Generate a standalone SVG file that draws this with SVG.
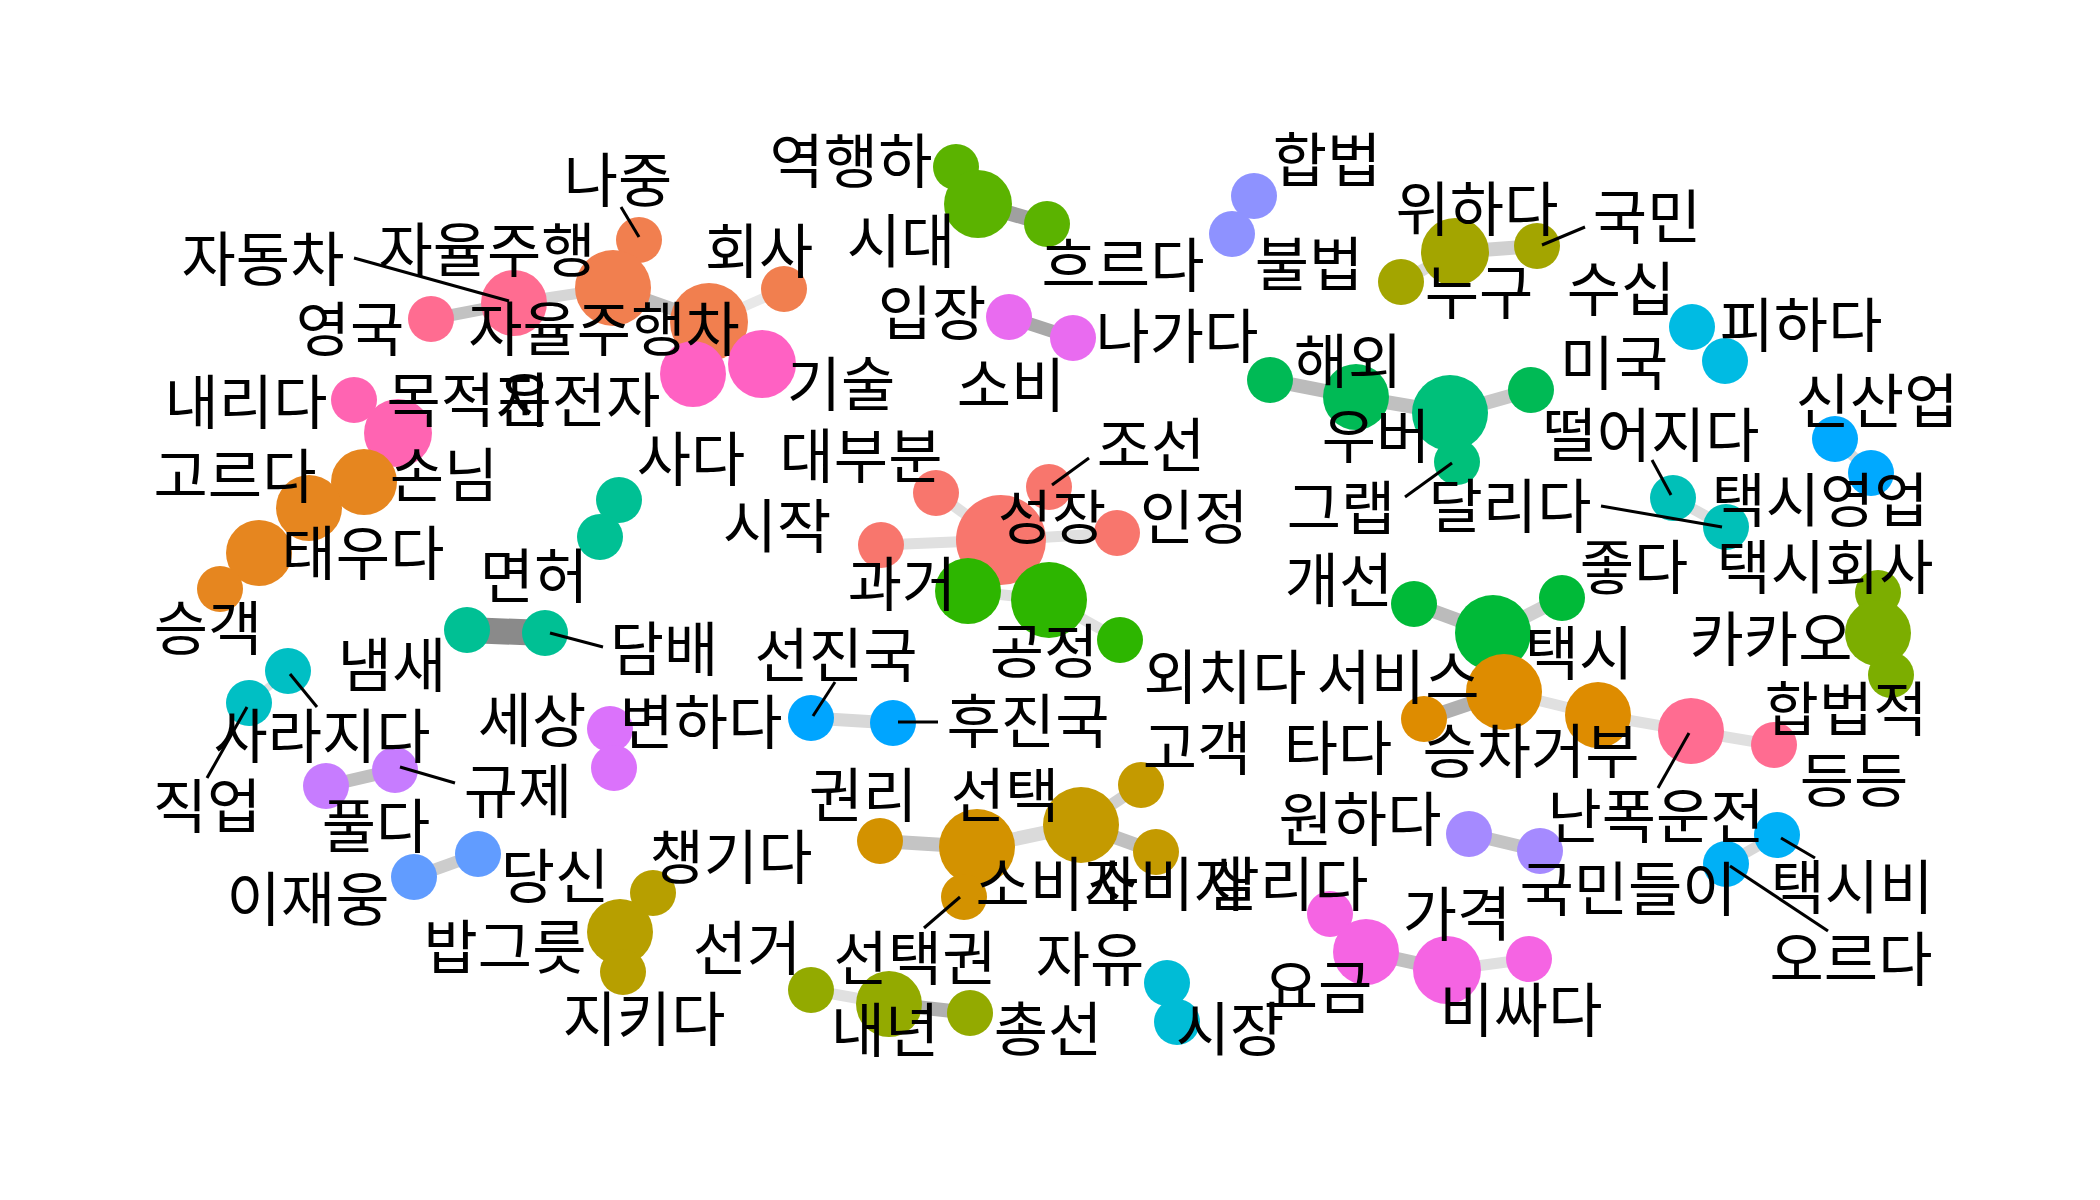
<svg xmlns="http://www.w3.org/2000/svg" width="2100" height="1200" viewBox="0 0 2100 1200">
<style>
text{font-family:"Noto Sans CJK KR","Noto Sans",sans-serif;font-size:59px;fill:#000;text-anchor:middle;dominant-baseline:central}
.e{fill:none;stroke-linecap:butt}
.ld{stroke:#000;stroke-width:3}
</style>
<rect width="2100" height="1200" fill="#fff"/>
<g id="connectors">
<line class="e" x1="431" y1="319" x2="514" y2="303" stroke="#C2C2C2" stroke-width="12"/>
<line class="e" x1="514" y1="303" x2="613" y2="288" stroke="#D6D6D6" stroke-width="11"/>
<line class="e" x1="613" y1="288" x2="709" y2="322" stroke="#BDBDBD" stroke-width="13"/>
<line class="e" x1="709" y1="322" x2="784" y2="289" stroke="#E8E8E8" stroke-width="10"/>
<line class="e" x1="978" y1="204" x2="1047" y2="224" stroke="#A0A0A0" stroke-width="15"/>
<line class="e" x1="1009" y1="317" x2="1073" y2="338" stroke="#A8A8A8" stroke-width="13"/>
<line class="e" x1="1270" y1="380" x2="1356" y2="397" stroke="#BBBBBB" stroke-width="14"/>
<line class="e" x1="1356" y1="397" x2="1450" y2="413" stroke="#C0C0C0" stroke-width="14"/>
<line class="e" x1="1450" y1="413" x2="1531" y2="390" stroke="#C8C8C8" stroke-width="14"/>
<line class="e" x1="1401" y1="282" x2="1455" y2="252" stroke="#DADADA" stroke-width="12"/>
<line class="e" x1="1455" y1="252" x2="1537" y2="246" stroke="#D0D0D0" stroke-width="14"/>
<line class="e" x1="1835" y1="439" x2="1871" y2="473" stroke="#D8D8D8" stroke-width="10"/>
<line class="e" x1="1673" y1="498" x2="1726" y2="527" stroke="#DDDDDD" stroke-width="11"/>
<line class="e" x1="467" y1="630" x2="545" y2="633" stroke="#8A8A8A" stroke-width="26"/>
<line class="e" x1="288" y1="671" x2="249" y2="703" stroke="#E0E0E0" stroke-width="8"/>
<line class="e" x1="326" y1="786" x2="395" y2="770" stroke="#C0C0C0" stroke-width="13"/>
<line class="e" x1="414" y1="877" x2="478" y2="854" stroke="#CCCCCC" stroke-width="12"/>
<line class="e" x1="936" y1="493" x2="1001" y2="540" stroke="#E0E0E0" stroke-width="11"/>
<line class="e" x1="881" y1="545" x2="1001" y2="540" stroke="#E0E0E0" stroke-width="11"/>
<line class="e" x1="1001" y1="540" x2="1117" y2="533" stroke="#E0E0E0" stroke-width="11"/>
<line class="e" x1="968" y1="591" x2="1049" y2="600" stroke="#E0E0E0" stroke-width="11"/>
<line class="e" x1="1049" y1="600" x2="1120" y2="640" stroke="#E0E0E0" stroke-width="11"/>
<line class="e" x1="811" y1="718" x2="893" y2="723" stroke="#D8D8D8" stroke-width="13"/>
<line class="e" x1="1414" y1="604" x2="1493" y2="633" stroke="#BBBBBB" stroke-width="14"/>
<line class="e" x1="1493" y1="633" x2="1562" y2="598" stroke="#D0D0D0" stroke-width="14"/>
<line class="e" x1="1424" y1="719" x2="1504" y2="692" stroke="#B0B0B0" stroke-width="14"/>
<line class="e" x1="1504" y1="692" x2="1598" y2="715" stroke="#E0E0E0" stroke-width="11"/>
<line class="e" x1="1598" y1="715" x2="1691" y2="731" stroke="#E0E0E0" stroke-width="11"/>
<line class="e" x1="1691" y1="731" x2="1774" y2="745" stroke="#E0E0E0" stroke-width="11"/>
<line class="e" x1="880" y1="841" x2="977" y2="847" stroke="#C4C4C4" stroke-width="14"/>
<line class="e" x1="977" y1="847" x2="1081" y2="825" stroke="#DADADA" stroke-width="14"/>
<line class="e" x1="1081" y1="825" x2="1141" y2="785" stroke="#D0D0D0" stroke-width="12"/>
<line class="e" x1="1081" y1="825" x2="1156" y2="852" stroke="#C0C0C0" stroke-width="14"/>
<line class="e" x1="811" y1="990" x2="889" y2="1004" stroke="#E0E0E0" stroke-width="11"/>
<line class="e" x1="889" y1="1004" x2="970" y2="1013" stroke="#B0B0B0" stroke-width="14"/>
<line class="e" x1="1469" y1="834" x2="1540" y2="851" stroke="#C4C4C4" stroke-width="13"/>
<line class="e" x1="1726" y1="864" x2="1777" y2="835" stroke="#D8D8D8" stroke-width="11"/>
<line class="e" x1="1366" y1="952" x2="1447" y2="970" stroke="#C0C0C0" stroke-width="14"/>
<line class="e" x1="1447" y1="970" x2="1529" y2="959" stroke="#E0E0E0" stroke-width="11"/>
</g>
<g id="nodes">
<g id="n-najung"><circle cx="639" cy="240" r="23" fill="#F17F4F"/></g>
<g id="n-jayuljuhaeng"><circle cx="613" cy="288" r="38" fill="#F17F4F"/></g>
<g id="n-jayuljuhaengcha"><circle cx="709" cy="322" r="39" fill="#F17F4F"/></g>
<g id="n-hoesa"><circle cx="784" cy="289" r="23" fill="#F17F4F"/></g>
<g id="n-jadongcha"><circle cx="514" cy="303" r="33" fill="#FF6C91"/></g>
<g id="n-yeongguk"><circle cx="431" cy="319" r="23" fill="#FF6C91"/></g>
<g id="n-unjeonja"><circle cx="693" cy="374" r="33" fill="#FF61C3"/></g>
<g id="n-gisul"><circle cx="762" cy="364" r="34" fill="#FF61C3"/></g>
<g id="n-naerida"><circle cx="354" cy="400" r="23" fill="#FF64B2"/></g>
<g id="n-mokjeokji"><circle cx="398" cy="433" r="34" fill="#FF64B2"/></g>
<g id="n-sonnim"><circle cx="364" cy="482" r="33" fill="#E6861F"/></g>
<g id="n-goreuda"><circle cx="309" cy="508" r="33" fill="#E6861F"/></g>
<g id="n-taeuda"><circle cx="259" cy="553" r="33" fill="#E6861F"/></g>
<g id="n-seunggaek"><circle cx="220" cy="589" r="23" fill="#E6861F"/></g>
<g id="n-yeokhaengha"><circle cx="956" cy="167" r="23" fill="#5BB300"/></g>
<g id="n-sidae"><circle cx="978" cy="204" r="34" fill="#5BB300"/></g>
<g id="n-heureuda"><circle cx="1047" cy="224" r="23" fill="#5BB300"/></g>
<g id="n-hapbeop"><circle cx="1254" cy="196" r="23" fill="#8E92FF"/></g>
<g id="n-bulbeop"><circle cx="1232" cy="234" r="23" fill="#8E92FF"/></g>
<g id="n-ipjang"><circle cx="1009" cy="317" r="23" fill="#E96BF0"/></g>
<g id="n-nagada"><circle cx="1073" cy="338" r="23" fill="#E96BF0"/></g>
<g id="n-wihada"><circle cx="1455" cy="252" r="34" fill="#A3A500"/></g>
<g id="n-gukmin"><circle cx="1537" cy="246" r="23" fill="#A3A500"/></g>
<g id="n-nugu"><circle cx="1401" cy="282" r="23" fill="#A3A500"/></g>
<g id="n-pihada"><circle cx="1692" cy="327" r="23" fill="#00BBE3"/></g>
<g id="n-susip"><circle cx="1725" cy="361" r="23" fill="#00BBE3"/></g>
<g id="n-haeoe"><circle cx="1270" cy="380" r="23" fill="#00BA55"/></g>
<g id="n-ubeo"><circle cx="1356" cy="397" r="33" fill="#00BA55"/></g>
<g id="n-dallida"><circle cx="1450" cy="413" r="38" fill="#00C07A"/></g>
<g id="n-miguk"><circle cx="1531" cy="390" r="23" fill="#00BA55"/></g>
<g id="n-geuraep"><circle cx="1457" cy="462" r="23" fill="#00C07A"/></g>
<g id="n-sinsaneop"><circle cx="1835" cy="439" r="23" fill="#00A9FF"/></g>
<g id="n-taeksiyeongeop"><circle cx="1871" cy="473" r="23" fill="#00A9FF"/></g>
<g id="n-tteoreojida"><circle cx="1673" cy="498" r="23" fill="#00C0B8"/></g>
<g id="n-taeksi2"><circle cx="1726" cy="527" r="23" fill="#00C0B8"/></g>
<g id="n-kakao1"><circle cx="1878" cy="593" r="23" fill="#7CAE00"/></g>
<g id="n-kakao"><circle cx="1878" cy="633" r="33" fill="#7CAE00"/></g>
<g id="n-kakao3"><circle cx="1891" cy="675" r="23" fill="#7CAE00"/></g>
<g id="n-gaeseon"><circle cx="1414" cy="604" r="23" fill="#00BA38"/></g>
<g id="n-taeksi"><circle cx="1493" cy="633" r="38" fill="#00BA38"/></g>
<g id="n-jota"><circle cx="1562" cy="598" r="23" fill="#00BA38"/></g>
<g id="n-tada"><circle cx="1424" cy="719" r="23" fill="#DE8C00"/></g>
<g id="n-seobiseu"><circle cx="1504" cy="692" r="38" fill="#DE8C00"/></g>
<g id="n-seungchageobu"><circle cx="1598" cy="715" r="33" fill="#DE8C00"/></g>
<g id="n-nanpok"><circle cx="1691" cy="731" r="33" fill="#FF6C91"/></g>
<g id="n-deungdeung"><circle cx="1774" cy="745" r="23" fill="#FF6C91"/></g>
<g id="n-seongjang"><circle cx="1001" cy="540" r="45" fill="#F8766D"/></g>
<g id="n-daebubun"><circle cx="936" cy="493" r="23" fill="#F8766D"/></g>
<g id="n-joseon"><circle cx="1049" cy="487" r="23" fill="#F8766D"/></g>
<g id="n-sijak"><circle cx="881" cy="545" r="23" fill="#F8766D"/></g>
<g id="n-injeong"><circle cx="1117" cy="533" r="23" fill="#F8766D"/></g>
<g id="n-gwageo"><circle cx="968" cy="591" r="33" fill="#2DB600"/></g>
<g id="n-gongjeong"><circle cx="1049" cy="600" r="38" fill="#2DB600"/></g>
<g id="n-oechida"><circle cx="1120" cy="640" r="23" fill="#2DB600"/></g>
<g id="n-sada"><circle cx="619" cy="500" r="23" fill="#00C094"/></g>
<g id="n-sada2"><circle cx="600" cy="537" r="23" fill="#00C094"/></g>
<g id="n-myeonheo"><circle cx="467" cy="630" r="23" fill="#00C094"/></g>
<g id="n-dambae"><circle cx="545" cy="633" r="23" fill="#00C094"/></g>
<g id="n-naemsae"><circle cx="288" cy="671" r="23" fill="#00BFC4"/></g>
<g id="n-sarajida"><circle cx="249" cy="703" r="23" fill="#00BFC4"/></g>
<g id="n-seonjinguk"><circle cx="811" cy="718" r="23" fill="#00A5FF"/></g>
<g id="n-hujinguk"><circle cx="893" cy="723" r="23" fill="#00A5FF"/></g>
<g id="n-sesang"><circle cx="610" cy="729" r="23" fill="#DB72FB"/></g>
<g id="n-byeonhada"><circle cx="614" cy="768" r="23" fill="#DB72FB"/></g>
<g id="n-gyuje"><circle cx="395" cy="770" r="23" fill="#C77CFF"/></g>
<g id="n-pulda"><circle cx="326" cy="786" r="23" fill="#C77CFF"/></g>
<g id="n-dangsin"><circle cx="478" cy="854" r="23" fill="#619CFF"/></g>
<g id="n-ijaeung"><circle cx="414" cy="877" r="23" fill="#619CFF"/></g>
<g id="n-chaenggida"><circle cx="653" cy="893" r="23" fill="#B79F00"/></g>
<g id="n-bapgeureut"><circle cx="620" cy="932" r="33" fill="#B79F00"/></g>
<g id="n-jikida"><circle cx="623" cy="972" r="23" fill="#B79F00"/></g>
<g id="n-gwolli"><circle cx="880" cy="841" r="23" fill="#D39200"/></g>
<g id="n-sobija"><circle cx="977" cy="847" r="38" fill="#D39200"/></g>
<g id="n-seontaekgwon"><circle cx="964" cy="897" r="23" fill="#D39200"/></g>
<g id="n-seontaek"><circle cx="1081" cy="825" r="38" fill="#C49A00"/></g>
<g id="n-gogaek"><circle cx="1141" cy="785" r="23" fill="#C49A00"/></g>
<g id="n-sobi2"><circle cx="1156" cy="852" r="23" fill="#C49A00"/></g>
<g id="n-seongeo"><circle cx="811" cy="990" r="23" fill="#93AA00"/></g>
<g id="n-naenyeon"><circle cx="889" cy="1004" r="33" fill="#93AA00"/></g>
<g id="n-chongseon"><circle cx="970" cy="1013" r="23" fill="#93AA00"/></g>
<g id="n-jayu"><circle cx="1167" cy="983" r="23" fill="#00BCD6"/></g>
<g id="n-sijang"><circle cx="1177" cy="1022" r="23" fill="#00BCD6"/></g>
<g id="n-sallida"><circle cx="1330" cy="914" r="23" fill="#F564E3"/></g>
<g id="n-yogeum"><circle cx="1366" cy="952" r="33" fill="#F564E3"/></g>
<g id="n-gagyeok"><circle cx="1447" cy="970" r="34" fill="#F564E3"/></g>
<g id="n-bissada"><circle cx="1529" cy="959" r="23" fill="#F564E3"/></g>
<g id="n-wonhada"><circle cx="1469" cy="834" r="23" fill="#A58AFF"/></g>
<g id="n-gukmindeuri"><circle cx="1540" cy="851" r="23" fill="#A58AFF"/></g>
<g id="n-taeksibi"><circle cx="1777" cy="835" r="23" fill="#00B0F6"/></g>
<g id="n-oreuda"><circle cx="1726" cy="864" r="23" fill="#00B0F6"/></g>
</g>
<g id="labels">
<line class="ld" x1="621" y1="207" x2="639" y2="237"/>
<line class="ld" x1="354" y1="258" x2="509" y2="301"/>
<line class="ld" x1="1585" y1="227" x2="1542" y2="245"/>
<line class="ld" x1="1405" y1="497" x2="1452" y2="463"/>
<line class="ld" x1="1652" y1="460" x2="1671" y2="495"/>
<line class="ld" x1="1601" y1="506" x2="1722" y2="527"/>
<line class="ld" x1="1089" y1="458" x2="1052" y2="485"/>
<line class="ld" x1="835" y1="682" x2="813" y2="716"/>
<line class="ld" x1="898" y1="722" x2="938" y2="722"/>
<line class="ld" x1="550" y1="633" x2="603" y2="647"/>
<line class="ld" x1="290" y1="674" x2="317" y2="707"/>
<line class="ld" x1="247" y1="707" x2="207" y2="778"/>
<line class="ld" x1="400" y1="767" x2="455" y2="783"/>
<line class="ld" x1="960" y1="897" x2="924" y2="928"/>
<line class="ld" x1="1689" y1="733" x2="1658" y2="788"/>
<line class="ld" x1="1781" y1="838" x2="1815" y2="858"/>
<line class="ld" x1="1730" y1="866" x2="1828" y2="931"/>
<g transform="translate(0,-5)">
<text x="618" y="181">나중</text>
<text x="263" y="260">자동차</text>
<text x="487" y="251">자율주행</text>
<text x="759" y="252">회사</text>
<text x="350" y="330">영국</text>
<text x="604" y="330">자율주행차</text>
<text x="246" y="403">내리다</text>
<text x="468" y="401">목적지</text>
<text x="579" y="401">운전자</text>
<text x="841" y="385">기술</text>
<text x="851" y="162">역행하</text>
<text x="901" y="242">시대</text>
<text x="1123" y="266">흐르다</text>
<text x="1327" y="161">합법</text>
<text x="1309" y="265">불법</text>
<text x="932" y="314">입장</text>
<text x="1177" y="337">나가다</text>
<text x="1011" y="386">소비</text>
<text x="1348" y="362">해외</text>
<text x="1477" y="210">위하다</text>
<text x="1647" y="218">국민</text>
<text x="1479" y="293">누구</text>
<text x="1621" y="290">수십</text>
<text x="1801" y="326">피하다</text>
<text x="1614" y="364">미국</text>
<text x="1376" y="437">우버</text>
<text x="1651" y="436">떨어지다</text>
<text x="1877" y="402">신산업</text>
<text x="235" y="477">고르다</text>
<text x="444" y="476">손님</text>
<text x="363" y="554">태우다</text>
<text x="208" y="629">승객</text>
<text x="691" y="460">사다</text>
<text x="861" y="457">대부분</text>
<text x="1151" y="446">조선</text>
<text x="777" y="527">시작</text>
<text x="1052" y="518">성장</text>
<text x="1194" y="518">인정</text>
<text x="1341" y="509">그랩</text>
<text x="1510" y="507">달리다</text>
<text x="1820" y="501">택시영업</text>
<text x="534" y="577">면허</text>
<text x="902" y="585">과거</text>
<text x="1339" y="581">개선</text>
<text x="1634" y="568">좋다</text>
<text x="1825" y="568">택시회사</text>
<text x="664" y="650">담배</text>
<text x="1044" y="652">공정</text>
<text x="836" y="656">선진국</text>
<text x="392" y="666">냄새</text>
<text x="1225" y="678">외치다</text>
<text x="1398" y="678">서비스</text>
<text x="1579" y="654">택시</text>
<text x="1771" y="640">카카오</text>
<text x="1846" y="710">합법적</text>
<text x="322" y="737">사라지다</text>
<text x="532" y="721">세상</text>
<text x="701" y="723">변하다</text>
<text x="1028" y="722">후진국</text>
<text x="1197" y="749">고객</text>
<text x="1338" y="749">타다</text>
<text x="1531" y="752">승차거부</text>
<text x="1854" y="781">등등</text>
<text x="207" y="807">직업</text>
<text x="518" y="792">규제</text>
<text x="376" y="827">풀다</text>
<text x="863" y="796">권리</text>
<text x="1005" y="796">선택</text>
<text x="1360" y="820">원하다</text>
<text x="1656" y="817">난폭운전</text>
<text x="308" y="900">이재웅</text>
<text x="555" y="877">당신</text>
<text x="731" y="858">챙기다</text>
<text x="1057" y="885">소비자</text>
<text x="1167" y="885">소비자</text>
<text x="1287" y="885">살리다</text>
<text x="1628" y="890">국민들이</text>
<text x="1852" y="888">택시비</text>
<text x="1457" y="915">가격</text>
<text x="505" y="948">밥그릇</text>
<text x="747" y="949">선거</text>
<text x="915" y="959">선택권</text>
<text x="1090" y="960">자유</text>
<text x="1851" y="960">오르다</text>
<text x="1318" y="988">요금</text>
<text x="1521" y="1011">비싸다</text>
<text x="644" y="1020">지키다</text>
<text x="885" y="1031">내년</text>
<text x="1048" y="1030">총선</text>
<text x="1230" y="1030">시장</text>
</g>
</g>
</svg>
